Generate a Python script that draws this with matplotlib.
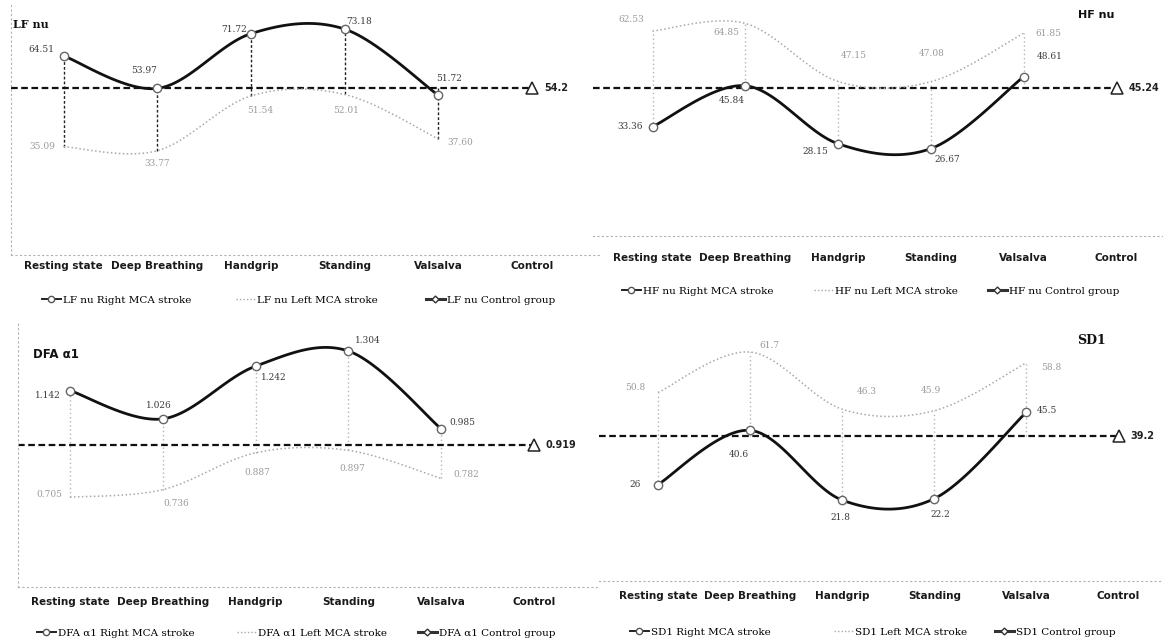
import numpy as np
import matplotlib.pyplot as plt
from matplotlib.lines import Line2D

W, H = 1163, 639

stages = ["Resting state", "Deep Breathing", "Handgrip", "Standing", "Valsalva", "Control"]

lf_right = [64.51, 53.97, 71.72, 73.18, 51.72]
lf_left = [35.09, 33.77, 51.54, 52.01, 37.60]
lf_control = 54.2

hf_right = [33.36, 45.84, 28.15, 26.67, 48.61]
hf_left = [62.53, 64.85, 47.15, 47.08, 61.85]
hf_control = 45.24

dfa_right = [1.142, 1.026, 1.242, 1.304, 0.985]
dfa_left = [0.705, 0.736, 0.887, 0.897, 0.782]
dfa_control = 0.919

sd1_right = [26, 40.6, 21.8, 22.2, 45.5]
sd1_left = [50.8, 61.7, 46.3, 45.9, 58.8]
sd1_control = 39.2

SANS = "DejaVu Sans"
SERIF = "DejaVu Serif"


def smooth(xs, ys, n=30):
    # Catmull-Rom style bezier through the points (like a "smoothed line")
    p = np.column_stack([xs, ys]).astype(float)
    ext = np.vstack([p[0], p, p[-1]])
    t = np.linspace(0, 1, n)[:, None]
    out = []
    for i in range(len(p) - 1):
        p0, p3 = ext[i + 1], ext[i + 2]
        c1 = p0 + (ext[i + 2] - ext[i]) / 6
        c2 = p3 - (ext[i + 3] - ext[i + 1]) / 6
        seg = ((1 - t) ** 3) * p0 + 3 * ((1 - t) ** 2) * t * c1 + 3 * (1 - t) * t ** 2 * c2 + t ** 3 * p3
        out.append(seg if i == 0 else seg[1:])
    out = np.vstack(out)
    return out[:, 0], out[:, 1]


def px_axes(fig, x0, x1, y0, y1):
    return fig.add_axes([x0 / W, 1 - y1 / H, (x1 - x0) / W, (y1 - y0) / H])


def draw_panel(fig, name, right, left, control, fmt, box, cx0, step, ylim,
               right_off, left_off, title, title_xy, title_font, tick_pad,
               legend_y, legend_xs, drop_color, drop_style, left_spine):
    x0, x1, y0, y1 = box
    ax = px_axes(fig, x0, x1, y0, y1)
    ax.set_xlim((x0 - cx0) / step, (x1 - cx0) / step)
    ax.set_ylim(*ylim)
    xs = np.arange(len(right))

    # high-low lines joining the groups at each stage
    for i in xs:
        vals = [right[i], left[i], control]
        ax.vlines(i, min(vals), max(vals), colors=drop_color, linestyles=drop_style,
                  lw=1.0, zorder=1)

    # control group reference line with its marker at "Control"
    xc = len(stages) - 1
    ax.hlines(control, ax.get_xlim()[0], xc, colors="#111111", linestyles=(0, (3, 1.6)),
              lw=1.6, zorder=2)
    ax.plot([xc], [control], marker="^", ms=8, mfc="white", mec="#222222", mew=1.1,
            ls="none", zorder=4)
    ax.annotate(fmt(control), (xc, control), xytext=(12, 0), textcoords="offset pixels",
                ha="left", va="center", fontsize=7, fontweight="bold", color="#222222",
                family=SANS)

    sx, sy = smooth(xs, left)
    ax.plot(sx, sy, color="#a8a8a8", lw=1.1, ls=(0, (1, 1.6)), zorder=2)
    sx, sy = smooth(xs, right)
    ax.plot(sx, sy, color="#111111", lw=2.0, zorder=3, solid_capstyle="round")
    ax.plot(xs, right, ls="none", marker="o", ms=6, mfc="white", mec="#666666", mew=1.0,
            zorder=5)

    for i, v in enumerate(right):
        ax.annotate(fmt(v), (i, v), xytext=right_off[i], textcoords="offset pixels",
                    ha="center", va="center", fontsize=6.5, color="#3a3a3a", family=SERIF)
    for i, v in enumerate(left):
        ax.annotate(fmt(v), (i, v), xytext=left_off[i], textcoords="offset pixels",
                    ha="center", va="center", fontsize=6.5, color="#9a9a9a", family=SERIF)

    ax.set_xticks(range(len(stages)), stages)
    ax.tick_params(axis="x", length=0, pad=tick_pad)
    for lbl in ax.get_xticklabels():
        lbl.set_fontfamily(SANS)
        lbl.set_fontweight("bold")
        lbl.set_fontsize(7.5)
        lbl.set_color("#1a1a1a")
    ax.set_yticks([])
    for s in ("top", "right"):
        ax.spines[s].set_visible(False)
    ax.spines["bottom"].set_linestyle((0, (1, 3)))
    ax.spines["bottom"].set_color("#b0b0b0")
    ax.spines["bottom"].set_linewidth(0.8)
    if left_spine:
        ax.spines["left"].set_linestyle((0, (1, 3)))
        ax.spines["left"].set_color("#b0b0b0")
        ax.spines["left"].set_linewidth(0.8)
    else:
        ax.spines["left"].set_visible(False)

    fig.text(title_xy[0] / W, 1 - title_xy[1] / H, title, ha="center", va="center",
             fontsize=title_font[1], fontweight="bold", family=title_font[0], color="#111111")

    handles = [
        Line2D([], [], color="#222222", lw=1.4, marker="o", ms=4.5, mfc="white", mec="#555555"),
        Line2D([], [], color="#a8a8a8", lw=1.0, ls=(0, (1, 1.5))),
        Line2D([], [], color="#333333", lw=2.2, marker="D", ms=3.5, mfc="white", mec="#333333"),
    ]
    labels = [f"{name} Right MCA stroke", f"{name} Left MCA stroke", f"{name} Control group"]
    for h, lab, lx in zip(handles, labels, legend_xs):
        fig.legend([h], [lab], loc="center left", bbox_to_anchor=(lx / W, 1 - legend_y / H),
                   frameon=False, handlelength=1.8, handletextpad=0.2, borderpad=0,
                   borderaxespad=0, prop={"family": SERIF, "size": 7.5})
    return ax


fig = plt.figure(figsize=(W / 100, H / 100), dpi=100)
fig.patch.set_facecolor("white")

draw_panel(fig, "LF nu", lf_right, lf_left, lf_control, lambda v: f"{v:.2f}" if v != lf_control else f"{v:g}",
           box=(11, 600, 5, 255), cx0=63.6, step=93.7, ylim=(0, 81),
           right_off=[(-22, 6), (-13, 18), (-17, 4), (14, 8), (11, 17)],
           left_off=[(-21, 0), (0, -13), (9, -15), (1, -16), (22, -4)],
           title="LF nu", title_xy=(31, 25), title_font=(SERIF, 8), tick_pad=4.5,
           legend_y=300, legend_xs=(42, 236, 426), drop_color="#222222",
           drop_style=(0, (2, 1.5)), left_spine=True)

draw_panel(fig, "HF nu", hf_right, hf_left, hf_control, lambda v: f"{v:.2f}",
           box=(593, 1163, 0, 236), cx0=652.5, step=92.8, ylim=(0, 72),
           right_off=[(-22, 0), (-14, -15), (-23, -8), (16, -11), (26, 20)],
           left_off=[(-21, 12), (-19, -9), (16, 26), (1, 28), (25, 0)],
           title="HF nu", title_xy=(1096, 15), title_font=(SANS, 8), tick_pad=12,
           legend_y=291, legend_xs=(622, 814, 988), drop_color="#b5b5b5",
           drop_style=(0, (1, 2)), left_spine=False)

draw_panel(fig, "DFA α1", dfa_right, dfa_left, dfa_control, lambda v: f"{v:.3f}",
           box=(18, 600, 322, 587), cx0=70, step=92.8, ylim=(0.337, 1.423),
           right_off=[(-22, -5), (-4, 13), (18, -11), (19, 11), (21, 6)],
           left_off=[(-21, 3), (13, -14), (2, -20), (4, -18), (25, 4)],
           title="DFA α1", title_xy=(56, 355), title_font=(SANS, 8.5), tick_pad=7.5,
           legend_y=633, legend_xs=(37, 237, 418), drop_color="#b5b5b5",
           drop_style=(0, (1, 2)), left_spine=True)

draw_panel(fig, "SD1", sd1_right, sd1_left, sd1_control, lambda v: f"{v:g}",
           box=(599, 1163, 322, 581), cx0=658, step=92.1, ylim=(0, 69.8),
           right_off=[(-23, 0), (-11, -24), (-2, -17), (6, -16), (21, 2)],
           left_off=[(-23, 5), (19, 7), (25, 18), (-3, 20), (25, -5)],
           title="SD1", title_xy=(1091, 341), title_font=(SERIF, 9), tick_pad=7.5,
           legend_y=632, legend_xs=(630, 834, 995), drop_color="#b5b5b5",
           drop_style=(0, (1, 2)), left_spine=False)

fig.savefig("out.png", dpi=100, facecolor="white")
